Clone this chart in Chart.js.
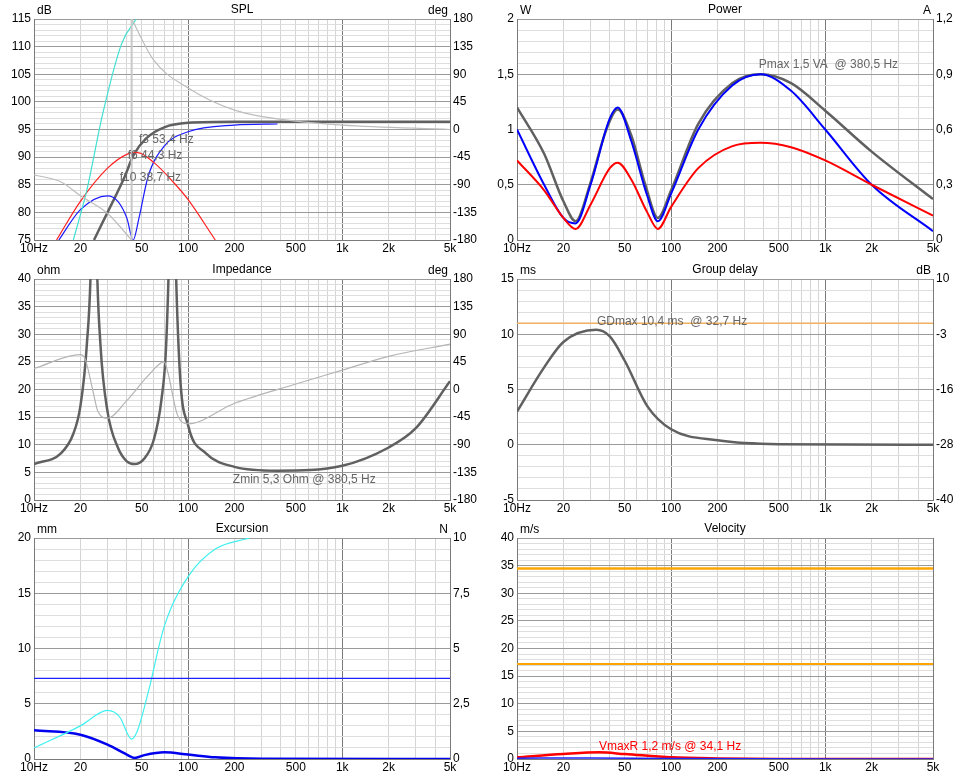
<!DOCTYPE html>
<html>
<head>
<meta charset="utf-8">
<script src="https://cdn.jsdelivr.net/npm/chart.js@4.4.1/dist/chart.umd.min.js"></script>
<style>
    body { margin: 0; background: #fff; width: 966px; height: 779px; position: relative; overflow: hidden; }
    .panel { position: absolute; width: 483px; }
</style>
</head>
<body>
<div class="panel" style="left:0;top:0;height:260px"><canvas id="spl"></canvas></div>
<div class="panel" style="left:483px;top:0;height:260px"><canvas id="power"></canvas></div>
<div class="panel" style="left:0;top:260px;height:260px"><canvas id="imp"></canvas></div>
<div class="panel" style="left:483px;top:260px;height:260px"><canvas id="gd"></canvas></div>
<div class="panel" style="left:0;top:519px;height:260px"><canvas id="exc"></canvas></div>
<div class="panel" style="left:483px;top:519px;height:260px"><canvas id="vel"></canvas></div>
<script>
// frequency tick labels
const freqTicks = [10, 20, 50, 100, 200, 500, 1000, 2000, 5000];
const freqLabels = ['10Hz', '20', '50', '100', '200', '500', '1k', '2k', '5k'];

// SPL (dB), points as [Hz, value]
const splTotal = [[24.5, 75], [30, 80], [38.7, 86.4], [44.3, 90.4], [53.4, 93.4], [70, 95.4], [100, 96.2], [200, 96.4], [5000, 96.4]];
const splBlue = [[14.5, 75], [20, 80.5], [30, 83], [35, 82], [40, 79], [44, 75], [48, 79], [55, 86.5], [70, 92], [100, 94.6], [200, 95.8], [380, 96]];
const splRed = [[14, 75], [20, 82], [30, 88], [40, 90.5], [47, 90.8], [60, 89], [80, 85.5], [100, 82.3], [150, 75]];
const splCyan = [[18, 75], [22, 84], [28, 98], [37, 110.5], [46, 115]];
const splPhaseHi = [[43, 115], [60, 107.5], [100, 102.5], [200, 98.5], [500, 96.5], [1000, 95.8], [5000, 95]];
const splPhaseLo = [[10, 86.8], [15, 85.5], [20, 83], [30, 79.8], [43, 75]];
const splMarker = [[43, 75], [43, 115]];

// Impedance (ohm), phase scaled to ohm axis
const impTotal = [[10, 6.5], [15, 8.5], [18, 12], [20, 17], [22, 28], [23.5, 45], [24.5, 80], [25.5, 45], [27, 28], [30, 16], [35, 9.5], [40, 7], [45, 6.5], [52, 7.5], [60, 11], [67, 18], [72, 28], [76, 50], [79, 80], [82, 50], [88, 24], [100, 13.5], [130, 8.5], [200, 6], [380, 5.3], [1000, 6.2], [2000, 9.5], [3000, 13], [5000, 21.5]];
const impPhase = [[10, 23.8], [20, 26.3], [21.5, 25.5], [24, 20], [26, 16], [30, 14.8], [40, 18], [55, 22.5], [70, 25], [74, 23], [85, 15.5], [100, 13.8], [200, 17.5], [500, 21], [1000, 23.5], [2000, 26], [5000, 28.2]];

// Power (W)
const powGray = [[10, 1.2], [15, 0.78], [20, 0.35], [24, 0.17], [30, 0.52], [38, 1.0], [45, 1.18], [55, 0.95], [68, 0.5], [82, 0.2], [100, 0.45], [150, 1.05], [250, 1.42], [380, 1.5], [600, 1.42], [1000, 1.17], [2000, 0.8], [5000, 0.37]];
const powBlue = [[10, 1.0], [15, 0.5], [20, 0.2], [24, 0.15], [30, 0.5], [40, 1.1], [45, 1.2], [55, 0.9], [70, 0.4], [82, 0.17], [100, 0.42], [150, 1.0], [250, 1.4], [380, 1.5], [600, 1.35], [1000, 1.0], [2000, 0.5], [5000, 0.08]];
const powRed = [[10, 0.72], [15, 0.45], [20, 0.2], [24, 0.1], [30, 0.32], [40, 0.65], [45, 0.7], [55, 0.55], [70, 0.25], [82, 0.1], [100, 0.3], [150, 0.65], [250, 0.85], [380, 0.88], [600, 0.84], [1000, 0.72], [2000, 0.5], [5000, 0.22]];

// Group delay (ms)
const gdCurve = [[10, 3], [15, 7], [20, 9.3], [32.7, 10.4], [40, 9.8], [50, 7.6], [70, 3.5], [100, 1.4], [200, 0.4], [500, 0.05], [5000, 0]];
const gdLimit = [[10, 11], [5000, 11]];

// Excursion (mm)
const excDisp = [[10, 2.6], [20, 2.2], [30, 1.3], [40, 0.4], [45, 0.1], [52, 0.35], [70, 0.6], [100, 0.4], [150, 0.15], [300, 0.02], [5000, 0]];
const excForce = [[10, 1.0], [20, 3.0], [30, 4.4], [36, 3.8], [43, 1.8], [47, 2.6], [55, 6], [70, 12], [100, 16.5], [150, 19], [250, 20]];
const excLimit = [[10, 7.3], [5000, 7.3]];

// Velocity (m/s)
const velLimitHi = [[10, 34.5], [5000, 34.5]];
const velLimitLo = [[10, 17.2], [5000, 17.2]];
const velRed = [[10, 0.3], [20, 0.9], [34.1, 1.2], [50, 0.9], [100, 0.3], [200, 0.1], [500, 0.01], [5000, 0]];
const velBlue = [[10, 0.15], [30, 0.2], [100, 0.08], [5000, 0]];

// right axis labels, top to bottom
const splRight = ['180', '135', '90', '45', '0', '-45', '-90', '-135', '-180'];
const impRight = ['180', '135', '90', '45', '0', '-45', '-90', '-135', '-180'];
const powRight = ['1,2', '0,9', '0,6', '0,3', '0'];
const gdRight = ['10', '-3', '-16', '-28', '-40'];
const excRight = ['10', '7,5', '5', '2,5', '0'];

const allFreqs = [];
[10, 100, 1000].forEach((d) => {
    for (let m = 1; m <= 9; m++) {
        if (d * m <= 5000) allFreqs.push(d * m);
    }
});

const FONT = { family: 'Liberation Sans, Arial, sans-serif', size: 12 };

const toXY = (pts) => pts.map(([x, y]) => ({ x, y }));

const line = (pts, color, width, extra = {}) => ({
    data: toXY(pts),
    borderColor: color,
    borderWidth: width,
    pointRadius: 0,
    fill: false,
    cubicInterpolationMode: 'monotone',
    ...extra,
});

const panelText = {
    id: 'panelText',
    afterDraw(chart, args, opts) {
        const { ctx, chartArea } = chart;
        ctx.save();
        ctx.font = '12px Liberation Sans, Arial, sans-serif';
        ctx.fillStyle = '#000';
        ctx.textBaseline = 'bottom';
        ctx.textAlign = 'center';
        ctx.fillText(opts.title, (chartArea.left + chartArea.right) / 2, chartArea.top - 3);
        ctx.textAlign = 'left';
        ctx.fillText(opts.unitLeft || '', chartArea.left + 3, chartArea.top - 2);
        ctx.textAlign = 'right';
        ctx.fillText(opts.unitRight || '', chartArea.right - 2, chartArea.top - 2);
        (opts.notes || []).forEach((n) => {
            ctx.fillStyle = n.color || '#666';
            ctx.textAlign = 'left';
            ctx.textBaseline = 'middle';
            ctx.fillText(n.text, chart.scales.x.getPixelForValue(n.x), chart.scales.y.getPixelForValue(n.y));
        });
        ctx.restore();
    },
};

function makeChart(id, cfg) {
    const major = cfg.major;
    const isMajor = (v) => Math.abs(v / major - Math.round(v / major)) < 1e-6;
    const majorIndex = (v) => Math.round((cfg.max - v) / major);
    new Chart(document.getElementById(id), {
        type: 'line',
        data: { datasets: cfg.datasets },
        options: {
            responsive: true,
            maintainAspectRatio: false,
            animation: false,
            layout: { padding: { top: 19 } },
            plugins: {
                legend: { display: false },
                tooltip: { enabled: false },
                panelText: { title: cfg.title, unitLeft: cfg.unitLeft, unitRight: cfg.unitRight, notes: cfg.notes },
            },
            scales: {
                x: {
                    type: 'logarithmic',
                    min: 10,
                    max: 5000,
                    afterBuildTicks: (axis) => { axis.ticks = allFreqs.map((v) => ({ value: v })); },
                    afterFit: (axis) => { axis.height = 20; },
                    ticks: {
                        autoSkip: false,
                        maxRotation: 0,
                        padding: 1,
                        font: FONT,
                        color: '#000',
                        callback: (v) => {
                            const i = freqTicks.indexOf(v);
                            return i >= 0 ? freqLabels[i] : '';
                        },
                    },
                    grid: {
                        color: (c) => ([100, 1000].includes(c.tick.value) ? '#7a7a7a' : '#d4d4d4'),
                        drawTicks: false,
                    },
                    border: { color: '#7a7a7a' },
                },
                y: {
                    min: cfg.min,
                    max: cfg.max,
                    afterFit: (axis) => { axis.width = 34; },
                    ticks: {
                        stepSize: cfg.minor,
                        autoSkip: false,
                        padding: 3,
                        font: FONT,
                        color: '#000',
                        callback: (v) => (isMajor(v) ? cfg.fmt(v) : ''),
                    },
                    grid: {
                        color: (c) => (isMajor(c.tick.value) ? '#9a9a9a' : '#dedede'),
                        drawTicks: false,
                    },
                    border: { color: '#7a7a7a' },
                },
                y2: {
                    position: 'right',
                    min: cfg.min,
                    max: cfg.max,
                    afterFit: (axis) => { axis.width = 33; },
                    ticks: {
                        stepSize: cfg.minor,
                        autoSkip: false,
                        padding: 3,
                        font: FONT,
                        color: '#000',
                        callback: (v) => (cfg.right && isMajor(v) ? cfg.right[majorIndex(v)] : ''),
                    },
                    grid: { display: false, drawTicks: false },
                    border: { color: '#7a7a7a' },
                },
            },
        },
        plugins: [panelText],
    });
}

const fmtComma = (v) => String(Math.round(v * 10) / 10).replace('.', ',');

makeChart('spl', {
    title: 'SPL', unitLeft: 'dB', unitRight: 'deg',
    min: 75, max: 115, minor: 1, major: 5, fmt: fmtComma, right: splRight,
    datasets: [
        line(splMarker, '#c8c8c8', 2),
        line(splPhaseHi, '#bdbdbd', 1.2),
        line(splPhaseLo, '#bdbdbd', 1.2),
        line(splCyan, '#40e0d0', 1.2),
        line(splRed, '#ff2020', 1.2),
        line(splBlue, '#1a1aff', 1.2),
        line(splTotal, '#606060', 2.5),
    ],
    notes: [
        { text: 'f3 53,4 Hz', x: 48, y: 93.2 },
        { text: 'f6 44,3 Hz', x: 40.5, y: 90.3 },
        { text: 'f10 38,7 Hz', x: 36, y: 86.2 },
    ],
});

makeChart('power', {
    title: 'Power', unitLeft: 'W', unitRight: 'A',
    min: 0, max: 2, minor: 0.1, major: 0.5, fmt: fmtComma, right: powRight,
    datasets: [
        line(powRed, '#ff0000', 2),
        line(powBlue, '#0000ff', 2),
        line(powGray, '#606060', 2.5),
    ],
    notes: [{ text: 'Pmax 1,5 VA  @ 380,5 Hz', x: 370, y: 1.59 }],
});

makeChart('imp', {
    title: 'Impedance', unitLeft: 'ohm', unitRight: 'deg',
    min: 0, max: 40, minor: 1, major: 5, fmt: fmtComma, right: impRight,
    datasets: [
        line(impPhase, '#b4b4b4', 1.2),
        line(impTotal, '#606060', 2.5),
    ],
    notes: [{ text: 'Zmin 5,3 Ohm @ 380,5 Hz', x: 195, y: 3.6 }],
});

makeChart('gd', {
    title: 'Group delay', unitLeft: 'ms', unitRight: 'dB',
    min: -5, max: 15, minor: 1, major: 5, fmt: fmtComma, right: gdRight,
    datasets: [
        line(gdLimit, '#f0b060', 1.5),
        line(gdCurve, '#606060', 2.5),
    ],
    notes: [{ text: 'GDmax 10,4 ms  @ 32,7 Hz', x: 33, y: 11.1 }],
});

makeChart('exc', {
    title: 'Excursion', unitLeft: 'mm', unitRight: 'N',
    min: 0, max: 20, minor: 1, major: 5, fmt: fmtComma, right: excRight,
    datasets: [
        line(excLimit, '#2020ff', 1.2),
        line(excForce, '#40f0f0', 1.2),
        line(excDisp, '#0000ee', 2.5),
    ],
});

makeChart('vel', {
    title: 'Velocity', unitLeft: 'm/s', unitRight: '',
    min: 0, max: 40, minor: 1, major: 5, fmt: fmtComma, right: null,
    datasets: [
        line(velLimitHi, '#ffa500', 2.5),
        line(velLimitLo, '#ffa500', 2),
        line(velBlue, '#2020ff', 1.5),
        line(velRed, '#ff0000', 2.5),
    ],
    notes: [{ text: 'VmaxR 1,2 m/s @ 34,1 Hz', x: 34, y: 2.3, color: '#ff0000' }],
});
</script>
</body>
</html>
